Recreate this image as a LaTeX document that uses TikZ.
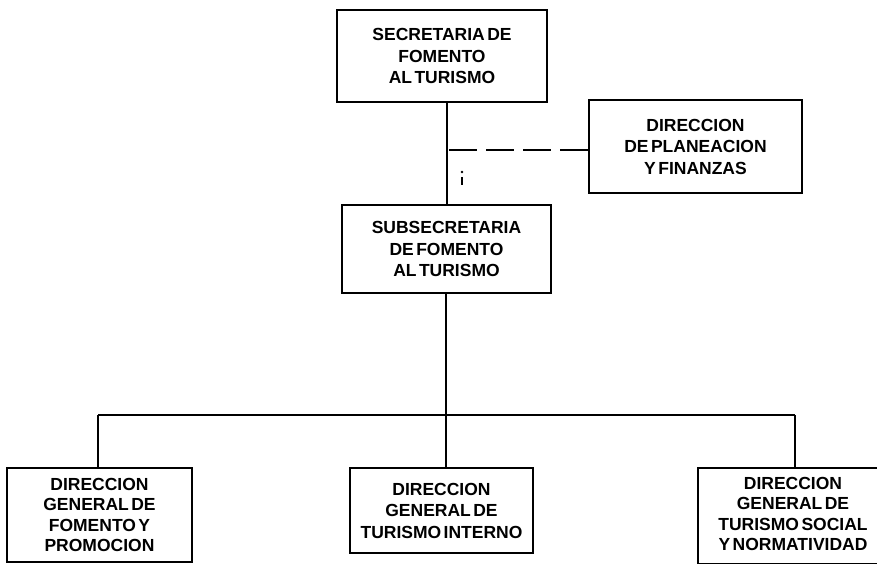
\documentclass[tikz,border=0pt]{standalone}
\usepackage{fontspec}
\setmainfont{Liberation Sans}[WordSpace=0.5]
\begin{document}
\begin{tikzpicture}[x=1pt,y=1pt,
  box/.style={draw, line width=2.5pt, align=center, inner sep=0pt,
    font=\bfseries\fontsize{17.5}{21.5}\selectfont},
  conn/.style={line width=2.5pt},
  dconn/.style={line width=2.5pt, dash pattern=on 28pt off 9pt}]
\useasboundingbox (0,0) rectangle (877,563);
\fill[white] (0,0) rectangle (877,563);
% boxes
\node[box, minimum width=210, minimum height=92] (sec) at (442,507) {SECRETARIA DE\\FOMENTO\\AL TURISMO};
\node[box, minimum width=213, minimum height=93] (plan) at (695.5,416.5) {DIRECCION\\DE PLANEACION\\Y FINANZAS};
\node[box, minimum width=209, minimum height=88] (sub) at (446.5,314) {SUBSECRETARIA\\DE FOMENTO\\AL TURISMO};
\node[box, minimum width=185, minimum height=94, font=\bfseries\fontsize{17.5}{20.5}\selectfont] (dgf) at (99.5,48) {DIRECCION\\GENERAL DE\\FOMENTO Y\\PROMOCION};
\node[box, minimum width=183, minimum height=85] (dgi) at (441.5,52.5) {DIRECCION\\GENERAL DE\\TURISMO INTERNO};
\node[box, minimum width=181, minimum height=96] (dgs) at (788.5,47) {};
\node[font=\bfseries\fontsize{17.5}{20.5}\selectfont, align=center, inner sep=0pt] (dgst) at (793,49) {DIRECCION\\GENERAL DE\\TURISMO SOCIAL\\Y NORMATIVIDAD};
% coordinates
\coordinate (bus) at (446,148);
\coordinate (busL) at (98,148);
\coordinate (busR) at (795,148);
% connectors
\draw[conn] (sec.south -| 447,0) -- (sub.north -| 447,0);
\draw[dconn] ([yshift=-3.5pt]plan.west) -- ([yshift=-3.5pt]plan.west -| 447,0);
\draw[conn] (sub.south -| bus) -- (bus);
\draw[conn] (busL) -- (busR);
\draw[conn] (busL) -- (busL |- dgf.north);
\draw[conn] (bus) -- (bus |- dgi.north);
\draw[conn] (busR) -- (busR |- dgs.north);
% stray mark
\fill (462,391) circle (1.3pt);
\draw[line width=1.6pt] (462,386) -- (462,378);
\end{tikzpicture}
\end{document}
